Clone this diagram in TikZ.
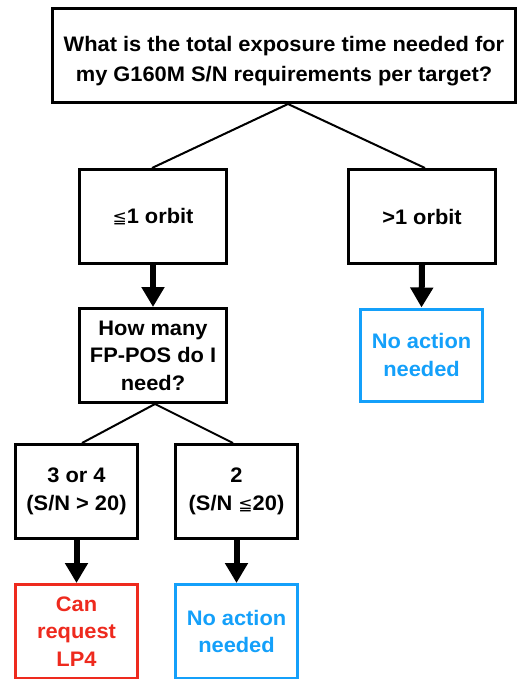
\documentclass[tikz,border=0pt]{standalone}
\usepackage{fontspec}
\setmainfont{Liberation Sans}
\newfontfamily\medfont{Liberation Sans Bold}[FakeStretch=1.04]
\newfontfamily\symfont{DejaVu Sans}
\usetikzlibrary{arrows.meta,calc}
\definecolor{cblue}{RGB}{20,160,250}
\definecolor{cred}{RGB}{238,42,30}
\begin{document}
\begin{tikzpicture}[x=1pt,y=-1pt,
  box/.style={draw,line width=3pt,rectangle,align=center,inner sep=0pt,
    font=\medfont\fontsize{21}{27.5}\selectfont},
  bluebox/.style={box,draw=cblue,text=cblue},
  redbox/.style={box,draw=cred,text=cred},
  txt/.style={align=center,inner sep=0pt,font=\medfont\fontsize{21}{29.5}\selectfont},
  link/.style={line width=2pt},
  arr/.style={line width=6pt,-{Triangle[width=22pt,length=20pt]}}]
\useasboundingbox[fill=white] (0,0) rectangle (518,679);
\node[box,minimum width=463pt,minimum height=94pt] (top) at (284,55.5) {};
\node[txt] (toptext) at (284,61) {What is the total exposure time needed for\\my G160M S/N requirements per target?};
\node[box,minimum width=147pt,minimum height=94pt] (l1) at (153,216.5) {{\symfont\fontsize{17}{20}\selectfont ≦}1 orbit};
\node[box,minimum width=147pt,minimum height=94pt] (r1) at (422,216.5) {>1 orbit};
\node[box,minimum width=147pt,minimum height=94pt] (q2) at (153,355.5) {How many\\FP-POS do I\\need?};
\node[bluebox,minimum width=122pt,minimum height=92pt] (na1) at (421.5,355) {No action\\needed};
\node[box,minimum width=122pt,minimum height=94pt] (b3) at (76.5,491.5) {3 or 4\\(S/N > 20)};
\node[box,minimum width=122pt,minimum height=94pt] (b2) at (236.5,491.5) {2\\(S/N {\symfont\fontsize{17}{20}\selectfont ≦}20)};
\node[redbox,minimum width=122pt,minimum height=94pt] (lp4) at (76.5,631.5) {Can\\request\\LP4};
\node[bluebox,minimum width=122pt,minimum height=94pt] (na2) at (236.5,631.5) {No action\\needed};
\coordinate (apex1) at ($(top.south)+(4,0)$);
\coordinate (apex2) at ($(q2.south)+(2,0)$);
\draw[link] (apex1) -- ($(l1.north)+(-1,0)$);
\draw[link] (apex1) -- ($(r1.north)+(3,0)$);
\draw[link] (apex2) -- ($(b3.north)+(5.5,0)$);
\draw[link] (apex2) -- ($(b2.north)+(-3.5,0)$);
\draw[arr] (l1.south) -- (q2.north);
\draw[arr] (r1.south) -- (na1.north);
\draw[arr] (b3.south) -- (lp4.north);
\draw[arr] (b2.south) -- (na2.north);
\end{tikzpicture}
\end{document}
